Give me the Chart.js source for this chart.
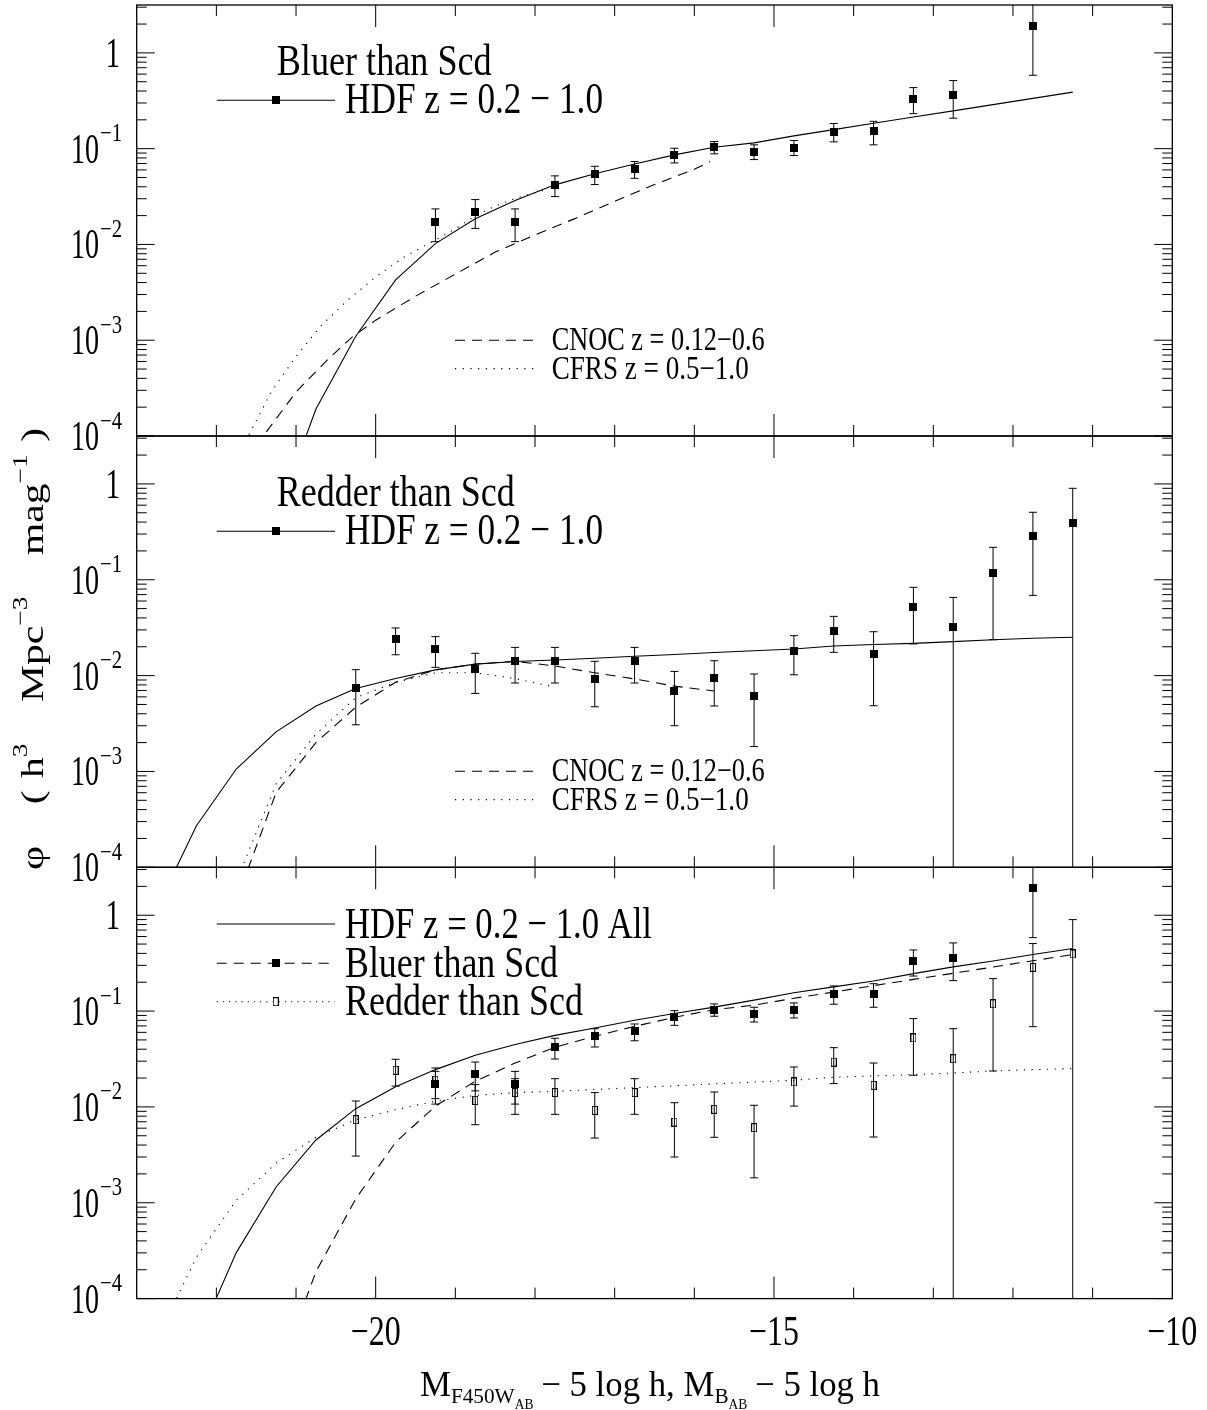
<!DOCTYPE html>
<html><head><meta charset="utf-8">
<script src="https://cdn.jsdelivr.net/npm/chart.js@4.4.0/dist/chart.umd.min.js"></script>
<style>
html,body{margin:0;padding:0;background:#fff;}
#wrap{position:relative;width:1207px;height:1410px;background:#fff;overflow:hidden;}
#wrap canvas{position:absolute;left:0;top:0;}
</style></head><body>
<div id="wrap">
<canvas id="c1" width="1207" height="1410"></canvas>
<canvas id="c2" width="1207" height="1410"></canvas>
<canvas id="c3" width="1207" height="1410"></canvas>
</div>
<script>
// ---------------- DATA ----------------
// magnitude bins of the HDF points
const blueBins = [-19.25,-18.75,-18.25,-17.75,-17.25,-16.75,-16.25,-15.75,-15.25,-14.75,-14.25,-13.75,-13.25,-12.75,-12.25,-11.75,-11.25];
const bluePhi  = [0.0173,0.0220,0.0173,0.0419,0.0546,0.0615,0.0861,0.1035,0.0933,0.1026,0.1497,0.152,0.331,0.361,null,1.91,null];
const blueHi   = [0.0235,0.0294,0.0235,0.052,0.0655,0.0733,0.101,0.1187,0.1096,0.1216,0.183,0.193,0.434,0.514,null,4.0,null];
const blueLo   = [0.0107,0.0147,0.0107,0.0316,0.0422,0.049,0.071,0.0883,0.0769,0.0847,0.1178,0.1096,0.232,0.208,null,0.584,null];

const redBins = [-20.25,-19.75,-19.25,-18.75,-18.25,-17.75,-17.25,-16.75,-16.25,-15.75,-15.25,-14.75,-14.25,-13.75,-13.25,-12.75,-12.25,-11.75,-11.25];
const redPhi  = [0.00735,0.0241,0.019,0.0117,0.0141,0.0141,0.0092,0.0141,0.00695,0.00944,0.00607,0.0182,0.0294,0.0168,0.0524,0.0318,0.119,0.286,0.394];
const redHi   = [0.01153,0.0314,0.0255,0.0171,0.0197,0.0197,0.0141,0.0197,0.01106,0.0143,0.0104,0.0261,0.0415,0.0287,0.0834,0.0655,0.218,0.506,0.90];
const redLo   = [0.00307,0.0165,0.0122,0.00652,0.00837,0.00837,0.00473,0.00837,0.0030,0.00482,0.00182,0.0102,0.0175,0.00485,0.0214,0,0.0237,0.0687,0];

// HDF Schechter fits (sampled every 0.5 mag)
const blueFitM   = [-21.25,-20.75,-20.25,-19.75,-19.25,-18.75,-18.25,-17.75,-17.25,-16.75,-16.25,-15.75,-15.25,-14.75,-14.25,-13.75,-13.25,-12.75,-12.25,-11.75,-11.25];
const blueFitPhi = [1.41e-5,1.91e-4,1.10e-3,4.27e-3,0.0102,0.0185,0.0287,0.0419,0.0546,0.0693,0.0861,0.1035,0.115,0.136,0.158,0.184,0.214,0.248,0.288,0.335,0.389];

const redFitM   = [-22.75,-22.25,-21.75,-21.25,-20.75,-20.25,-19.75,-19.25,-18.75,-18.25,-17.75,-17.25,-16.75,-16.25,-15.75,-15.25,-14.75,-14.25,-13.75,-13.25,-12.75,-12.25,-11.75,-11.25];
const redFitPhi = [3.72e-5,2.71e-4,1.06e-3,2.59e-3,4.82e-3,7.35e-3,9.33e-3,0.01148,0.01318,0.01406,0.01455,0.0152,0.0159,0.0166,0.0174,0.01816,0.01897,0.0204,0.0211,0.0217,0.0226,0.0237,0.0245,0.0251];

const allFitM   = [-22.25,-21.75,-21.25,-20.75,-20.25,-19.75,-19.25,-18.75,-18.25,-17.75,-17.25,-16.75,-16.25,-15.75,-15.25,-14.75,-14.25,-13.75,-13.25,-12.75,-12.25,-11.75,-11.25];
const allFitPhi = [3.39e-5,3.02e-4,1.46e-3,4.52e-3,9.59e-3,0.0162,0.0245,0.0346,0.0447,0.0558,0.0667,0.0802,0.0942,0.110,0.130,0.155,0.179,0.206,0.246,0.289,0.333,0.389,0.449];

// comparison luminosity functions
const cnocBlueM   = [-21.5,-21.0,-20.6,-20.3,-20.0,-19.5,-19.0,-18.5,-18.0,-17.5,-17.0,-16.5,-16.0,-15.8];
const cnocBluePhi = [7.94e-5,2.88e-4,6.31e-4,1.07e-3,1.62e-3,2.88e-3,4.90e-3,8.32e-3,0.0126,0.0186,0.0282,0.0422,0.0610,0.0733];
const cfrsBlueM   = [-21.7,-21.6,-21.3,-21.0,-20.7,-20.35,-20.0,-19.65,-19.3,-19.0,-18.75,-18.5,-18.25,-18.0,-17.9];
const cfrsBluePhi = [7.6e-5,1.0e-4,2.99e-4,6.76e-4,1.38e-3,2.63e-3,4.57e-3,7.33e-3,0.0106,0.0145,0.020,0.0251,0.0302,0.0347,0.0363];

const cnocRedM   = [-21.75,-21.25,-20.75,-20.25,-19.75,-19.25,-18.75,-18.25,-17.75,-17.25,-16.75,-16.25,-15.75];
const cnocRedPhi = [4.47e-5,6.03e-4,2.0e-3,4.68e-3,8.51e-3,0.01148,0.01318,0.0141,0.0126,0.0107,9.23e-3,7.76e-3,6.92e-3];
const cfrsRedM   = [-21.8,-21.25,-20.75,-20.25,-19.75,-19.25,-18.75,-18.25,-17.75];
const cfrsRedPhi = [5.6e-5,7.41e-4,2.45e-3,5.89e-3,8.51e-3,0.0107,0.0107,9.33e-3,7.59e-3];

// axes
const xMin = -23, xMax = -10;
const yMin = 1e-4, yMax = 3.1623;
const xTickValues = [-20, -15, -10];
const xTickLabels = ['\u221220', '\u221215', '\u221210'];
const yTickValues = [1, 0.1, 0.01, 0.001, 0.0001];
const yTickExp    = ['', '\u22121', '\u22122', '\u22123', '\u22124'];

// texts
const panelTitles = ['Bluer than Scd', 'Redder than Scd'];
const hdfLabel = 'HDF z = 0.2 \u2212 1.0';
const cnocLabel = 'CNOC z = 0.12\u22120.6';
const cfrsLabel = 'CFRS z = 0.5\u22121.0';
const allLabels = ['HDF z = 0.2 \u2212 1.0 All', 'Bluer than Scd', 'Redder than Scd'];

// ---------------- RENDERING ----------------
const FONT = '"Liberation Serif", "DejaVu Serif", serif';
const HS = 0.8;
const PL = 136.7, PR = 1172.3, PH = 431.3;
const panelTops = [4.7, 436.0, 867.3];

function pts(xs, ys){ return xs.map((x,i)=> ({x:x, y:ys[i]})); }

function markerFilled(){ const c=document.createElement('canvas'); c.width=8;c.height=8; const g=c.getContext('2d'); g.fillStyle='#000'; g.fillRect(0,0,8,8); return c; }
function markerOpen(){ const c=document.createElement('canvas'); c.width=6;c.height=9; const g=c.getContext('2d'); g.strokeStyle='#000'; g.lineWidth=1; g.strokeRect(0.5,0.5,5,8); return c; }
const MF = markerFilled(), MO = markerOpen();

function txt(ctx, s, x, y, size, align, width, hs){
  ctx.save();
  ctx.font = size + 'px ' + FONT;
  const w = ctx.measureText(s).width;
  const sx = width ? width / w : (hs || HS);
  const W = w * sx;
  let x0 = x;
  if (align === 'right') x0 = x - W; else if (align === 'center') x0 = x - W/2;
  ctx.translate(x0, y); ctx.scale(sx, 1);
  ctx.fillStyle = '#000'; ctx.textBaseline = 'alphabetic'; ctx.textAlign = 'left';
  ctx.fillText(s, 0, 0);
  ctx.restore();
  return W;
}

// rich text: segments {t, size, dy}; scaled horizontally to total width
function rich(ctx, segs, x, y, totalWidth){
  ctx.save();
  let nat = 0;
  segs.forEach(s=>{ ctx.font = s.size+'px '+FONT; s.w = ctx.measureText(s.t).width + (s.gap||0); nat += s.w; });
  const sx = totalWidth / nat;
  ctx.translate(x, y); ctx.scale(sx, 1);
  ctx.fillStyle = '#000'; ctx.textBaseline='alphabetic';
  let cx = 0;
  segs.forEach(s=>{ ctx.font = s.size+'px '+FONT; ctx.fillText(s.t, cx, s.dy||0); cx += s.w; });
  ctx.restore();
}

function lineSeg(ctx, x1, x2, y, dash){
  ctx.save(); ctx.strokeStyle='#000'; ctx.lineWidth=1.1; ctx.setLineDash(dash||[]);
  ctx.beginPath(); ctx.moveTo(x1,y); ctx.lineTo(x2,y); ctx.stroke(); ctx.restore();
}

function makePlugin(panel){
  return {
    id: 'deco' + panel,
    beforeDatasetsDraw(chart){
      const ctx = chart.ctx, xs = chart.scales.x, ys = chart.scales.y, a = chart.chartArea;
      ctx.save();
      ctx.beginPath(); ctx.rect(a.left, a.top-0.5, a.right-a.left, a.bottom-a.top+1); ctx.clip();
      ctx.strokeStyle = '#000'; ctx.lineWidth = 1;
      chart.data.datasets.forEach(ds=>{
        if (!ds.errHi) return;
        ds.data.forEach((p,i)=>{
          if (p.y == null) return;
          const px = xs.getPixelForValue(p.x);
          const hiV = ds.errHi[i], loV = ds.errLo[i];
          const yh = hiV > yMax ? a.top - 5 : ys.getPixelForValue(hiV);
          const yl = loV > 0 ? ys.getPixelForValue(loV) : a.bottom + 5;
          ctx.beginPath(); ctx.moveTo(px, yh); ctx.lineTo(px, yl);
          if (hiV <= yMax) { ctx.moveTo(px-4, yh); ctx.lineTo(px+4, yh); }
          if (loV > 0) { ctx.moveTo(px-4, yl); ctx.lineTo(px+4, yl); }
          ctx.stroke();
        });
      });
      ctx.restore();
    },
    afterDraw(chart){
      const ctx = chart.ctx, xs = chart.scales.x, ys = chart.scales.y, a = chart.chartArea;
      ctx.save();
      ctx.strokeStyle = '#000'; ctx.lineWidth = 1.3;
      ctx.strokeRect(a.left, a.top, a.right-a.left, a.bottom-a.top);
      ctx.lineWidth = 1;
      ctx.beginPath();
      for (let m = Math.ceil(xMin)+1; m < xMax; m++){
        const px = xs.getPixelForValue(m);
        const len = (m % 5 === 0) ? 22 : 11;
        ctx.moveTo(px, a.top); ctx.lineTo(px, a.top+len);
        ctx.moveTo(px, a.bottom); ctx.lineTo(px, a.bottom-len);
      }
      for (let e = -4; e <= 0; e++){
        for (let k = 1; k <= 9; k++){
          const v = k * Math.pow(10, e);
          if (v > yMax || v < yMin) continue;
          const py = ys.getPixelForValue(v);
          const len = k === 1 ? 18 : 10;
          ctx.moveTo(a.left, py); ctx.lineTo(a.left+len, py);
          ctx.moveTo(a.right, py); ctx.lineTo(a.right-len, py);
        }
      }
      ctx.stroke();
      // y tick labels
      yTickValues.forEach((v,i)=>{
        const py = ys.getPixelForValue(v);
        if (yTickExp[i] === '') {
          txt(ctx, '1', 120, py + 14, 42, 'right', null, 0.68);
        } else {
          txt(ctx, yTickExp[i], 100, py - 7.5, 25, 'left', 22);
          txt(ctx, '10', 99, py + 14, 42, 'right', 28);
        }
      });
      // x tick labels (bottom panel only)
      if (panel === 3) {
        xTickValues.forEach((v,i)=>{
          txt(ctx, xTickLabels[i], xs.getPixelForValue(v), a.bottom + 46, 42, 'center', 50);
        });
      }
      // legends
      const t = a.top;
      if (panel === 1 || panel === 2) {
        txt(ctx, panelTitles[panel-1], 276.7, t + 70.3, 45, 'left', panel===1 ? 215 : 238);
        lineSeg(ctx, 216.7, 335, t + 95.3);
        ctx.drawImage(MF, 275.7-4, t + 95.3 - 4);
        txt(ctx, hdfLabel, 345, t + 108.3, 45, 'left', 258);
        lineSeg(ctx, 455, 535, t + 335.3, [10, 7]);
        txt(ctx, cnocLabel, 551.7, t + 345.3, 33, 'left', 213);
        lineSeg(ctx, 455, 535, t + 363.6, [1.2, 6.5]);
        txt(ctx, cfrsLabel, 551.7, t + 373.6, 33, 'left', 197);
      } else {
        lineSeg(ctx, 216.7, 335, t + 56.7);
        txt(ctx, allLabels[0], 345, t + 70.7, 45, 'left', 307);
        lineSeg(ctx, 216.7, 335, t + 96, [10, 7]);
        ctx.drawImage(MF, 275.7-4, t + 96 - 4);
        txt(ctx, allLabels[1], 345, t + 109.4, 45, 'left', 213);
        lineSeg(ctx, 216.7, 335, t + 134.4, [1.2, 5]);
        ctx.fillStyle='#fff'; ctx.fillRect(275.7-3, t+134.4-4.5, 6, 9);
        ctx.drawImage(MO, 275.7-3, t + 134.4 - 4.5);
        txt(ctx, allLabels[2], 345, t + 147.7, 45, 'left', 238);
        // x axis title
        const yb = a.bottom + 97;
        rich(ctx, [
          {t:'M', size:36},
          {t:'F450W', size:22, dy:7},
          {t:'AB', size:14, dy:13, gap:8},
          {t:'\u2212 5 log h, M', size:36},
          {t:'B', size:22, dy:7},
          {t:'AB', size:14, dy:13, gap:8},
          {t:'\u2212 5 log h', size:36}
        ], 420, yb, 460);
      }
      if (panel === 2) {
        // y axis title (rotated, reads bottom to top)
        ctx.save();
        ctx.translate(43, 870);
        ctx.rotate(-Math.PI/2);
        const SX = 1.3;
        const segs = [
          {t:'\u03c6', size:32, g:1},
          {t:'(', size:32, g:0.3},
          {t:'h', size:32},
          {t:'3', size:21, dy:-16, g:1},
          {t:'Mpc', size:32},
          {t:'\u22123', size:21, dy:-16, g:1},
          {t:'mag', size:32},
          {t:'\u22121', size:21, dy:-16, g:0.3},
          {t:')', size:32}
        ];
        let nat = 0, gsum = 0;
        segs.forEach(s=>{ ctx.font = s.size+'px '+FONT; s.w = ctx.measureText(s.t).width * SX; nat += s.w; gsum += (s.g||0); });
        const unit = Math.max(0, (442 - nat) / gsum);
        ctx.fillStyle = '#000';
        let cx = 0;
        segs.forEach(s=>{
          ctx.save(); ctx.font = s.size+'px '+FONT; ctx.translate(cx, s.dy||0); ctx.scale(SX, 1);
          ctx.fillText(s.t, 0, 0); ctx.restore();
          cx += s.w + (s.g||0)*unit;
        });
        ctx.restore();
      }
      ctx.restore();
    }
  };
}

function lineDs(xsArr, ysArr, dash){
  return { data: pts(xsArr, ysArr), borderColor:'#000', borderWidth: 1.1, borderDash: dash || [],
           pointRadius: 0, fill:false, tension:0, showLine:true };
}
function ptDs(xsArr, ysArr, hi, lo, style){
  return { data: pts(xsArr, ysArr), showLine:false, pointStyle: style, pointRadius: 4,
           borderColor:'#000', backgroundColor:'#000', errHi: hi, errLo: lo };
}

function makeChart(id, panel, datasets){
  const top = panelTops[panel-1];
  return new Chart(document.getElementById(id), {
    type: 'line',
    data: { datasets },
    options: {
      responsive: false, animation: false, devicePixelRatio: 1,
      layout: { padding: { left: PL, right: 1207 - PR, top: top, bottom: 1410 - (top + PH) } },
      plugins: { legend: {display:false}, tooltip: {enabled:false}, title:{display:false} },
      scales: {
        x: { type: 'linear', min: xMin, max: xMax, display: false },
        y: { type: 'logarithmic', min: yMin, max: yMax, display: false }
      },
      events: []
    },
    plugins: [makePlugin(panel)]
  });
}

const DASH = [10, 7], DOT = [1.2, 6.5];

makeChart('c1', 1, [
  lineDs(blueFitM, blueFitPhi),
  lineDs(cnocBlueM, cnocBluePhi, DASH),
  lineDs(cfrsBlueM, cfrsBluePhi, DOT),
  ptDs(blueBins, bluePhi, blueHi, blueLo, MF)
]);
makeChart('c2', 2, [
  lineDs(redFitM, redFitPhi),
  lineDs(cnocRedM, cnocRedPhi, DASH),
  lineDs(cfrsRedM, cfrsRedPhi, DOT),
  ptDs(redBins, redPhi, redHi, redLo, MF)
]);
makeChart('c3', 3, [
  lineDs(allFitM, allFitPhi),
  lineDs(blueFitM, blueFitPhi, DASH),
  lineDs(redFitM, redFitPhi, DOT),
  ptDs(redBins, redPhi, redHi, redLo, MO),
  ptDs(blueBins, bluePhi, blueHi, blueLo, MF)
]);
</script>
</body></html>
